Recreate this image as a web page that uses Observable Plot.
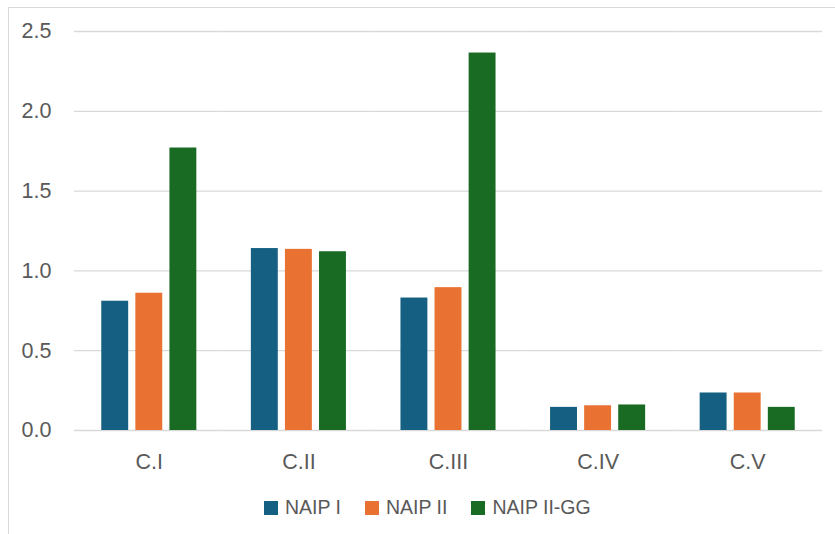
<!DOCTYPE html>
<html>
<head>
<meta charset="utf-8">
<script src="https://cdn.jsdelivr.net/npm/d3@7"></script>
<script src="https://cdn.jsdelivr.net/npm/@observablehq/plot@0.6"></script>
<style>
  html, body { margin: 0; padding: 0; background: #fff; }
  body { width: 835px; height: 534px; position: relative; overflow: hidden; font-family: "Liberation Sans", Arial, sans-serif; }
  #frame { position: absolute; left: 8px; top: 7px; width: 900px; height: 600px; border: 1.5px solid #d9d9d9; box-sizing: border-box; }
  #chart { position: absolute; left: 0; top: 0; }
  #legend { position: absolute; left: 264px; top: 496px; display: flex; gap: 24px; align-items: center; font-size: 19.5px; color: #595959; }
  #legend .item { display: flex; align-items: center; gap: 7px; }
  #legend .sw { width: 14px; height: 14px; display: inline-block; }
</style>
</head>
<body>
<div id="frame"></div>
<div id="chart"></div>
<div id="legend"></div>
<script>
const categories = ["C.I", "C.II", "C.III", "C.IV", "C.V"];
const series = ["NAIP I", "NAIP II", "NAIP II-GG"];
const naipI = [0.81, 1.14, 0.83, 0.145, 0.235];
const naipII = [0.86, 1.135, 0.895, 0.155, 0.235];
const naipIIGG = [1.77, 1.12, 2.365, 0.16, 0.145];
const colors = ["#156082", "#E97132", "#196B24"];
const yTicks = [0, 0.5, 1.0, 1.5, 2.0, 2.5];

const valuesBySeries = [naipI, naipII, naipIIGG];
const data = [];
categories.forEach((c, i) => {
  series.forEach((s, j) => data.push({cat: c, series: s, value: valuesBySeries[j][i]}));
});

const fmt = d3.format(".1f");
const chart = Plot.plot({
  width: 835,
  height: 486,
  marginLeft: 74,
  marginRight: 13,
  marginTop: 31,
  marginBottom: 56,
  style: {fontFamily: "'Liberation Sans', Arial, sans-serif", background: "transparent", overflow: "visible"},
  fx: {domain: categories, padding: 0, round: false, label: null},
  x: {domain: series, paddingInner: 0.21, paddingOuter: 0.8, round: false, axis: null},
  y: {domain: [0, 2.5], label: null},
  color: {domain: series, range: colors},
  marks: [
    Plot.gridY(yTicks, {stroke: "#d9d9d9", strokeOpacity: 1, strokeWidth: 1.3}),
    Plot.axisY(yTicks, {tickSize: 0, tickPadding: 23, tickFormat: fmt, fontSize: 21.5, fill: "#595959", label: null}),
    Plot.axisFx({anchor: "bottom", tickSize: 0, tickPadding: 23, fontSize: 21.5, fill: "#595959", label: null}),
    Plot.barY(data, {fx: "cat", x: "series", y: "value", fill: "series"})
  ]
});
document.getElementById("chart").appendChild(chart);

const legend = document.getElementById("legend");
series.forEach((s, i) => {
  const item = document.createElement("div");
  item.className = "item";
  const sw = document.createElement("span");
  sw.className = "sw";
  sw.style.background = colors[i];
  const t = document.createElement("span");
  t.textContent = s;
  item.appendChild(sw);
  item.appendChild(t);
  legend.appendChild(item);
});
</script>
</body>
</html>
